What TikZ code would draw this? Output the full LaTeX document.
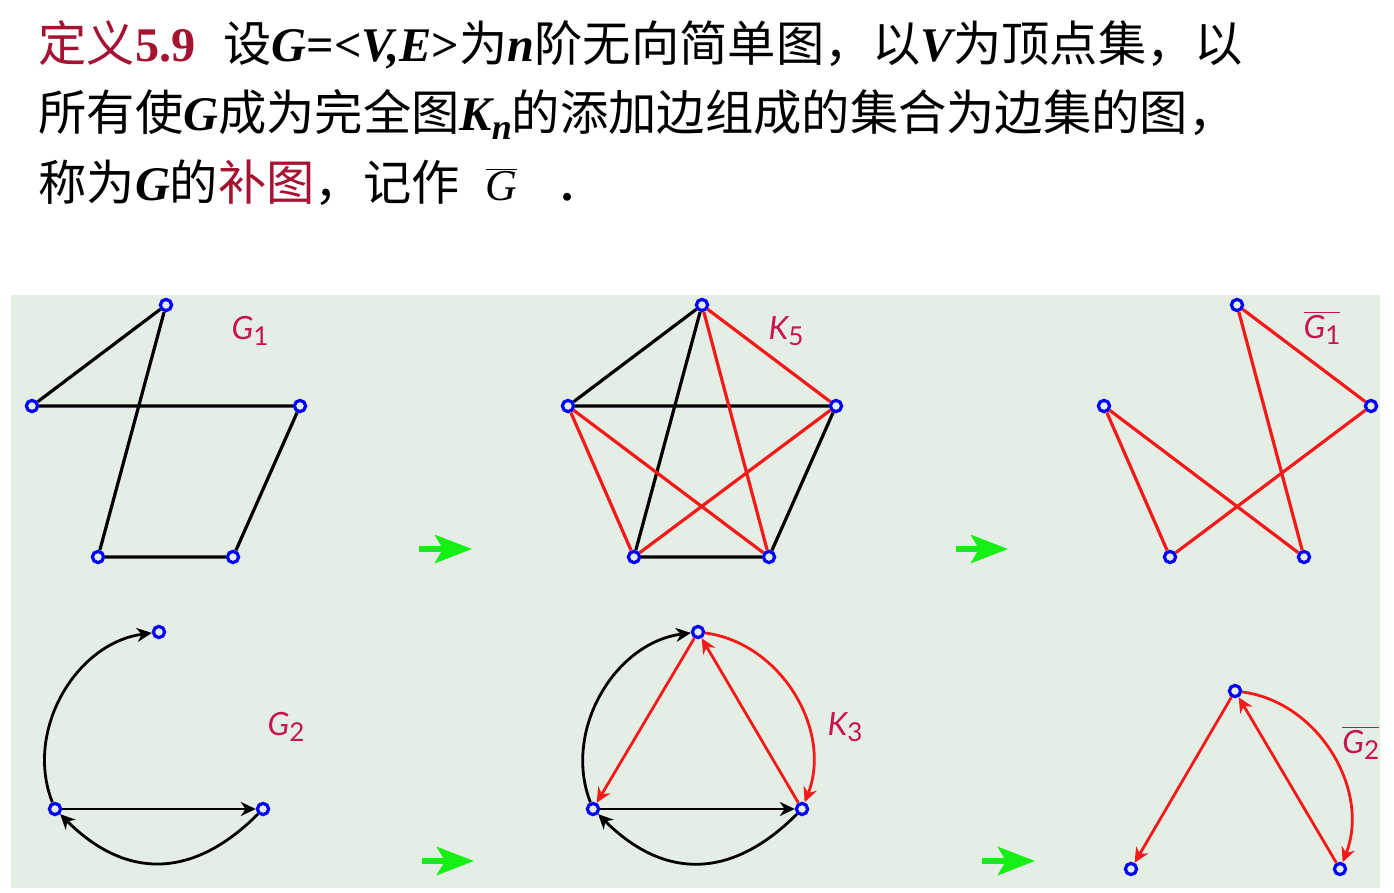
\documentclass[tikz,border=0pt]{standalone}
\usepackage{fontspec}
\setmainfont{Noto Sans CJK SC}
\newfontfamily\tms{Liberation Serif}
\newfontfamily\lblf{Lato}
\usetikzlibrary{arrows.meta}
\definecolor{bgc}{RGB}{228,238,228}
\definecolor{tred}{RGB}{165,18,50}
\definecolor{lred}{RGB}{200,20,80}
\definecolor{ered}{RGB}{245,25,25}
\definecolor{vblue}{RGB}{0,0,255}
\definecolor{agreen}{RGB}{20,240,20}
\newcommand{\lt}[1]{{\tms\bfseries\itshape #1}}
\newcommand{\sub}[1]{\raisebox{-0.35ex}{\upshape\fontsize{13pt}{13pt}\selectfont #1}}
\begin{document}
\begin{tikzpicture}[x=0.5pt,y=-0.5pt,
  vx/.style={circle,draw=vblue,fill=bgc,line width=1.6pt,inner sep=0pt,minimum size=5.6pt},
  ed/.style={line width=1.6pt},
  rd/.style={ed,color=ered},
  dir/.style={line width=1.4pt,-{Stealth[length=7.5pt,width=7pt,inset=2.4pt]}},
  gar/.style={agreen,line width=3pt,-{Stealth[length=18.5pt,width=14pt,inset=4pt]}},
  lbl/.style={text=lred,font=\lblf\fontsize{16pt}{18pt}\selectfont\itshape,inner sep=0pt},
  ttl/.style={anchor=base west,inner sep=0pt,font=\fontsize{24.15pt}{30pt}\selectfont}]
\useasboundingbox (0,0) rectangle (1394,893);
\fill[white] (0,0) rectangle (1394,893);
\fill[bgc] (11,295) rectangle (1380,888);

% title
\node[ttl] (t1) at (38,62) {\textcolor{tred}{定义\tms\bfseries 5.9}\hspace{14pt}设\lt{G}{\tms\bfseries =<}\lt{V,E}{\tms\bfseries >}为\lt{n}阶无向简单图，以\lt{V}为顶点集，以};
\node[ttl] (t2) at (38,131) {所有使\lt{G}成为完全图\lt{K\raisebox{-4.5pt}{\fontsize{18pt}{18pt}\selectfont n}}的添加边组成的集合为边集的图，};
\node[ttl] (t3) at (38,201) {称为\lt{G}的\textcolor{tred}{补图}，记作\hspace{13pt}$\overline{\mbox{\tms\itshape\fontsize{22pt}{22pt}\selectfont G}}$\hspace{22pt}{\tms\bfseries .}};

% G1
\node[vx] (a1) at (166,305) {};
\node[vx] (a2) at (32,406) {};
\node[vx] (a3) at (300,406) {};
\node[vx] (a4) at (98,557) {};
\node[vx] (a5) at (233,557) {};
\draw[ed] (a1) -- (a2) (a1) -- (a4) (a2) -- (a3) (a3) -- (a5) (a4) -- (a5);
\node[lbl] (L1) at (250,331) {G\sub{1}};

% K5
\node[vx] (b1) at (702,305) {};
\node[vx] (b2) at (568,406) {};
\node[vx] (b3) at (836,406) {};
\node[vx] (b4) at (634,557) {};
\node[vx] (b5) at (769,557) {};
\draw[ed] (b1) -- (b2) (b1) -- (b4) (b2) -- (b3) (b3) -- (b5) (b4) -- (b5);
\draw[rd] (b1) -- (b3) (b1) -- (b5) (b2) -- (b4) (b2) -- (b5) (b3) -- (b4);
\node[lbl] (L2) at (786,331) {K\sub{5}};

% complement G1
\node[vx] (c1) at (1237,305) {};
\node[vx] (c2) at (1104,406) {};
\node[vx] (c3) at (1371,406) {};
\node[vx] (c4) at (1170,557) {};
\node[vx] (c5) at (1304,557) {};
\draw[rd] (c1) -- (c3) (c1) -- (c5) (c2) -- (c4) (c2) -- (c5) (c3) -- (c4);
\node[lbl] (L3) at (1322,328) {$\overline{\mbox{G\sub{1}}}$};

% G2
\node[vx] (d1) at (159,632) {};
\node[vx] (d2) at (55,809) {};
\node[vx] (d3) at (263,809) {};
\draw[dir] (d2) to[bend left=52] (d1);
\draw[dir] (d2) -- (d3);
\draw[dir] (d3) to[bend left=45,looseness=1.2] (d2);
\node[lbl] (L4) at (286,727) {G\sub{2}};

% K3
\node[vx] (e1) at (698,632) {};
\node[vx] (e2) at (593,809) {};
\node[vx] (e3) at (802,809) {};
\draw[dir] (e2) to[bend left=52] (e1);
\draw[dir] (e2) -- (e3);
\draw[dir] (e3) to[bend left=45,looseness=1.2] (e2);
\draw[dir,ered] (e1) to[bend left=52] (e3);
\draw[dir,ered] (e1) -- (e2);
\draw[dir,ered] (e3) -- (e1);
\node[lbl] (L5) at (845,727) {K\sub{3}};

% complement G2
\node[vx] (f1) at (1235,691) {};
\node[vx] (f2) at (1131,869) {};
\node[vx] (f3) at (1340,869) {};
\draw[dir,ered] (f1) to[bend left=52] (f3);
\draw[dir,ered] (f1) -- (f2);
\draw[dir,ered] (f3) -- (f1);
\begin{scope}
\clip (11,295) rectangle (1380,888);
\node[lbl,anchor=west] (L6) at (1342,743) {$\overline{\mbox{G\sub{2}}}$};
\end{scope}

% green arrows
\coordinate (g1s) at (419,549); \coordinate (g1e) at (472,549);
\coordinate (g2s) at (956,549); \coordinate (g2e) at (1008,549);
\coordinate (g3s) at (422,861); \coordinate (g3e) at (474,861);
\coordinate (g4s) at (982,861); \coordinate (g4e) at (1035,861);
\draw[gar] (g1s) -- (g1e);
\draw[gar] (g2s) -- (g2e);
\draw[gar] (g3s) -- (g3e);
\draw[gar] (g4s) -- (g4e);
\end{tikzpicture}
\end{document}
